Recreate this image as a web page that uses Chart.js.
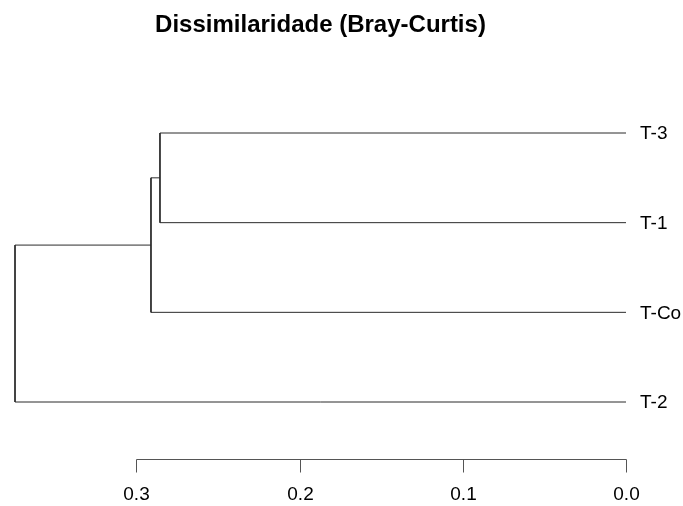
<!DOCTYPE html>
<html>
<head>
<meta charset="utf-8">
<script src="https://cdn.jsdelivr.net/npm/chart.js@4/dist/chart.umd.min.js"></script>
<style>
  html, body { margin: 0; padding: 0; background: #ffffff; }
  #wrap { width: 683px; height: 506px; }
</style>
</head>
<body>
<div id="wrap"><canvas id="c" width="683" height="506"></canvas></div>
<script>
// Leaves of the dendrogram, top to bottom
const leafLabels = ["T-3", "T-1", "T-Co", "T-2"];
// Merge steps (hclust-style: negative = leaf number, positive = earlier merge step)
const mergeA = [-1, 1, 2];
const mergeB = [-2, -3, -4];
// Heights (Bray-Curtis dissimilarity) at which each merge occurs
const mergeHeights = [0.2855, 0.2910, 0.3743];
// Axis ticks
const xTickValues = [0.3, 0.2, 0.1, 0.0];
const xTickLabels = ["0.3", "0.2", "0.1", "0.0"];

const FONT = "'Liberation Sans', Arial, Helvetica, sans-serif";
const LINE = "#2b2b2b";

// Build dendrogram segments from merges
const mergePos = [];
function child(c) {
  if (c < 0) return { pos: -c, h: 0 };
  return { pos: mergePos[c - 1], h: mergeHeights[c - 1] };
}
const datasets = [];
for (let i = 0; i < mergeHeights.length; i++) {
  const a = child(mergeA[i]);
  const b = child(mergeB[i]);
  const h = mergeHeights[i];
  mergePos.push((a.pos + b.pos) / 2);
  datasets.push({
    data: [
      { x: a.h, y: a.pos },
      { x: h, y: a.pos },
      { x: h, y: b.pos },
      { x: b.h, y: b.pos }
    ],
    showLine: true,
    borderColor: LINE,
    borderWidth: 1,
    pointRadius: 0,
    pointHoverRadius: 0,
    tension: 0,
    fill: false,
    clip: false
  });
}

const rAxisPlugin = {
  id: 'rAxis',
  afterDraw(chart) {
    const ctx = chart.ctx;
    const xs = chart.scales.x;
    const ys = chart.scales.y;
    const area = chart.chartArea;
    ctx.save();
    // bottom axis (R style)
    const axisY = 459.5;
    const tickLen = 13;
    const px = xTickValues.map(v => Math.round(xs.getPixelForValue(v)) + 0.5);
    ctx.strokeStyle = "#555555";
    ctx.lineWidth = 1;
    ctx.beginPath();
    ctx.moveTo(Math.min(...px), axisY);
    ctx.lineTo(Math.max(...px), axisY);
    px.forEach(p => { ctx.moveTo(p, axisY); ctx.lineTo(p, axisY + tickLen); });
    ctx.stroke();
    ctx.fillStyle = "#000000";
    ctx.font = "19px " + FONT;
    ctx.textAlign = "center";
    ctx.textBaseline = "middle";
    xTickLabels.forEach((t, i) => ctx.fillText(t, px[i], 495));
    // leaf labels
    ctx.textAlign = "left";
    leafLabels.forEach((t, i) => {
      ctx.fillText(t, area.right + 14, ys.getPixelForValue(i + 1) + 1);
    });
    ctx.restore();
  }
};

new Chart(document.getElementById('c'), {
  type: 'scatter',
  data: { datasets: datasets },
  options: {
    responsive: false,
    animation: false,
    events: [],
    layout: { padding: { top: 0, left: 15, right: 57, bottom: 104 } },
    plugins: {
      legend: { display: false },
      tooltip: { enabled: false },
      title: {
        display: true,
        text: "Dissimilaridade (Bray-Curtis)",
        color: "#000000",
        font: { family: FONT, size: 24, weight: 'bold' },
        padding: { top: 11, bottom: 93.2 }
      }
    },
    scales: {
      x: {
        type: 'linear',
        display: false,
        reverse: true,
        min: 0,
        max: Math.max(...mergeHeights)
      },
      y: {
        type: 'linear',
        display: false,
        reverse: true,
        min: 1,
        max: leafLabels.length
      }
    }
  },
  plugins: [rAxisPlugin]
});
</script>
</body>
</html>
